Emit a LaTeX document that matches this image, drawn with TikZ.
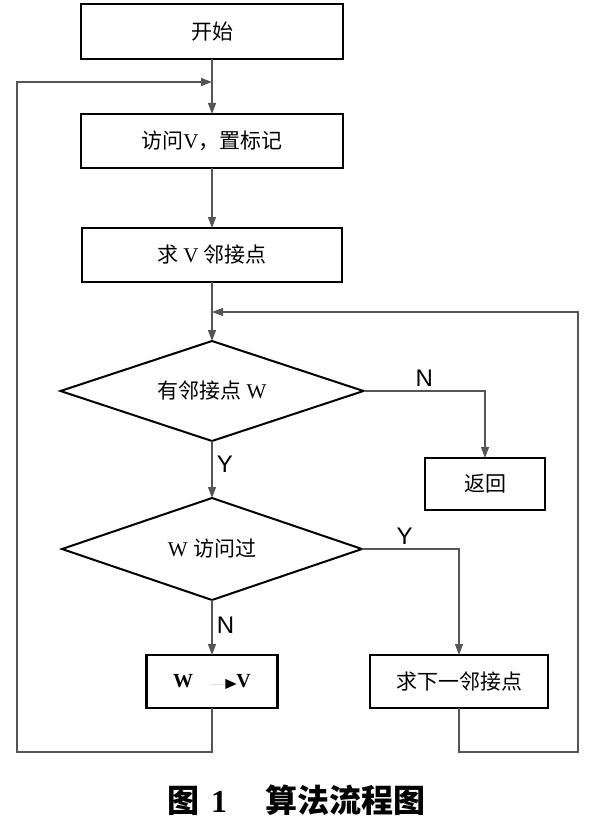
\documentclass[tikz,border=0pt]{standalone}
\usepackage{fontspec}
\setmainfont{Liberation Serif}
\newfontfamily\cjk{Noto Sans CJK SC}
\newfontfamily\lab{Liberation Sans}
\usepackage{tikz}
\usetikzlibrary{shapes.geometric, arrows.meta, positioning}
\definecolor{flowgray}{RGB}{85, 85, 85}

\begin{document}
\begin{tikzpicture}[
  x=1pt, y=-1pt,
  box/.style={
    rectangle, draw=black, line width=2.4pt,
    minimum width=262pt, minimum height=54pt,
    inner sep=0pt, outer sep=0pt, align=center,
    font=\cjk\fontsize{21}{24}\selectfont
  },
  decision/.style={
    diamond, aspect=3, draw=black, line width=2pt,
    minimum width=303pt, minimum height=100pt,
    inner sep=0pt, outer sep=0pt, align=center,
    font=\cjk\fontsize{21}{24}\selectfont
  },
  arrow/.style={-{Triangle[length=11pt, width=8pt]}, line width=1.2pt, flowgray},
  yn/.style={font=\lab\fontsize{24}{26}\selectfont, text=black}
]
\useasboundingbox (0,0) rectangle (592,829);

% main column
\node[box, minimum height=55pt] (start) at (212,31.5) {开始};
\node[box, below=55pt of start] (visit) {访问{\rmfamily V}，置标记};
\node[box, below=60pt of visit, minimum width=260pt] (adj) {求{\rmfamily\ V\ }邻接点};
\node[decision, below=59pt of adj] (hasw) {有邻接点{\rmfamily\ W}};
\node[decision, below=57pt of hasw, minimum width=300pt, minimum height=102pt] (visited) {{\rmfamily W\ }访问过};
\node[box, below=55pt of visited, minimum width=131pt, minimum height=53pt,
      font=\rmfamily\bfseries\fontsize{20}{22}\selectfont] (wv)
  {W\hspace{18pt}\tikz[baseline=-0.35ex]{\draw[gray!25, line width=0.8pt] (0,0) -- (14pt,0);
     \fill (14pt,5pt) -- (25pt,0) -- (14pt,-5pt) -- cycle;}V};

% right column
\node[box, minimum width=120pt, minimum height=52pt] (ret) at (485,484) {返回};
\node[box, minimum width=178pt, minimum height=53pt] (next) at (459,681.5) {求下一邻接点};

% loop points
\coordinate (jl) at (212,82);
\coordinate (jr) at (212,312);
\coordinate (loopL) at (17,752);
\coordinate (loopR) at (578,752);

\draw[arrow] (start) -- (visit);
\draw[arrow] (visit) -- (adj);
\draw[arrow] (adj) -- (hasw);
\draw[arrow] (hasw) -- node[yn, right, pos=0.4, xshift=1pt]{Y} (visited);
\draw[arrow] (hasw.east) -| node[yn, above, pos=0.25, yshift=1pt]{N} (ret);
\draw[arrow] (visited) -- node[yn, right, pos=0.45, xshift=1pt]{N} (wv);
\draw[arrow] (visited.east) -| node[yn, above, pos=0.22, yshift=1pt]{Y} (next);

\draw[arrow] (wv.south) |- (loopL) |- (jl);
\draw[arrow] (next.south) |- (loopR) |- (jr);

% caption
\node[font=\cjk\bfseries\fontsize{32}{36}\selectfont] (caption) at (296,800)
  {图\hspace{12pt}{\rmfamily 1}\hspace{38pt}算法流程图};

\end{tikzpicture}
\end{document}
